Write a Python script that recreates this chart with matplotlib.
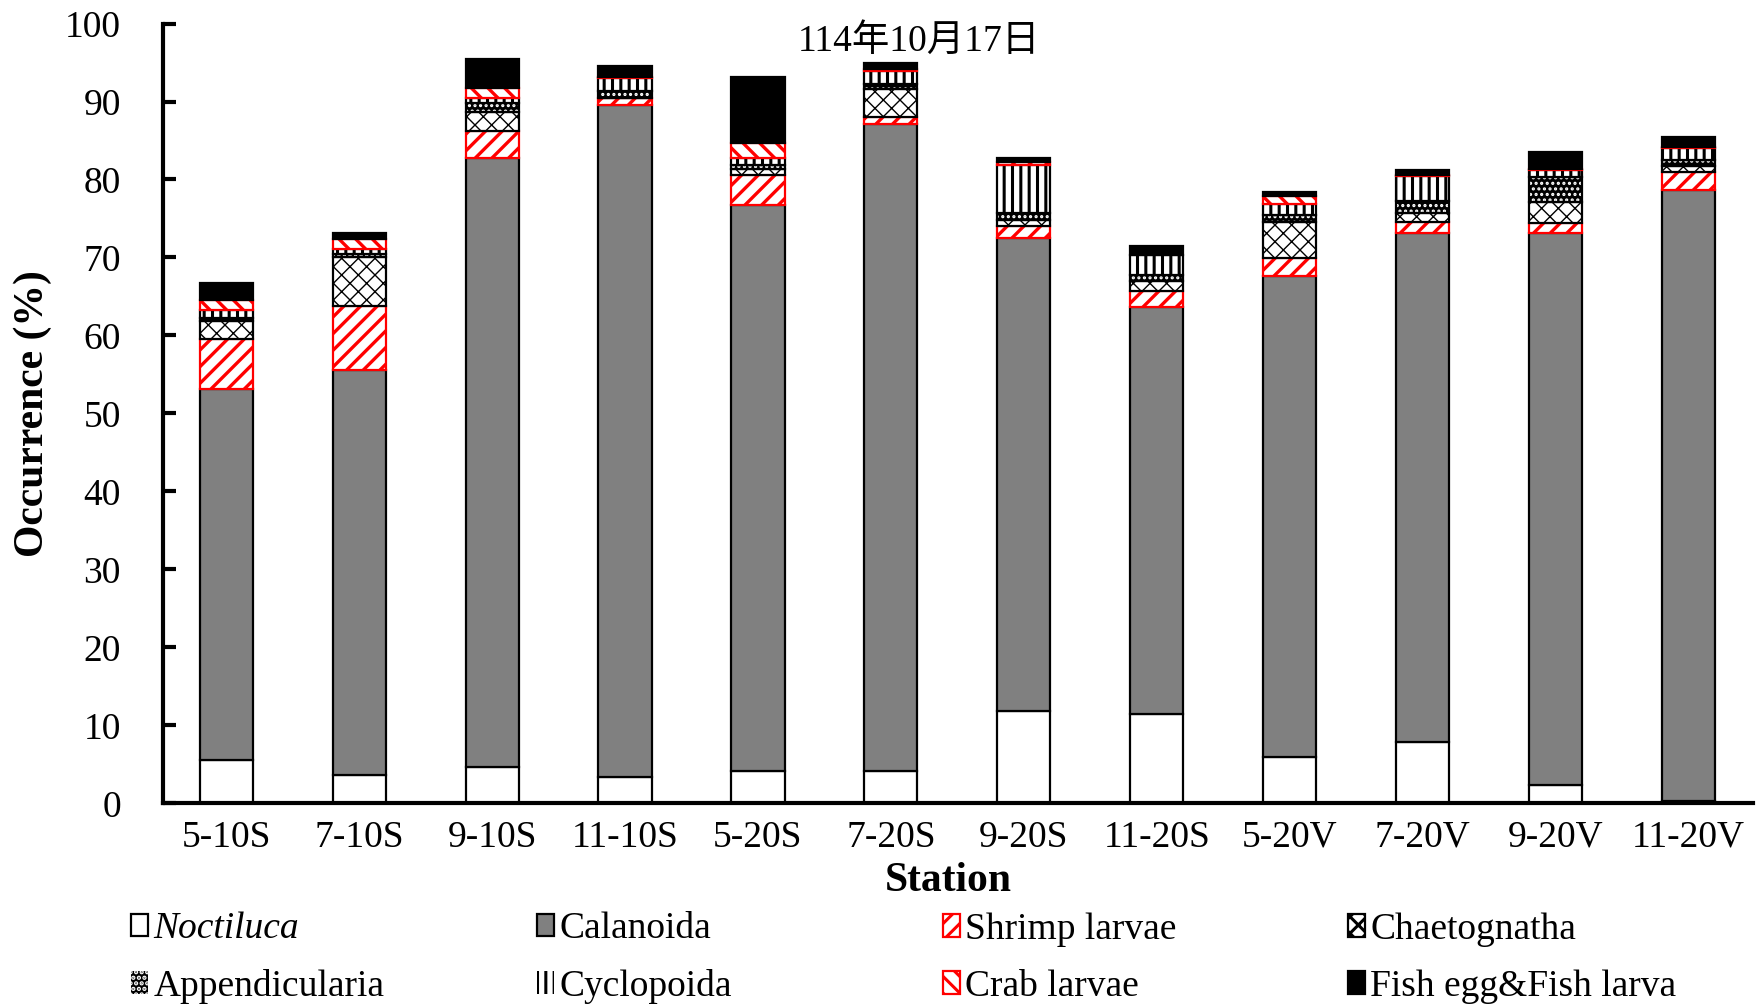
import numpy as np
import matplotlib
matplotlib.use('Agg')
import matplotlib.pyplot as plt
import matplotlib.patches as mpatches

stations = ['5-10S', '7-10S', '9-10S', '11-10S', '5-20S', '7-20S',
            '9-20S', '11-20S', '5-20V', '7-20V', '9-20V', '11-20V']
noctiluca      = [5.6, 3.6, 4.7, 3.4, 4.2, 4.2, 11.8, 11.5, 5.9, 7.9, 2.4, 0.3]
calanoida      = [47.5, 52.0, 78.0, 86.1, 72.5, 82.9, 60.7, 52.1, 61.7, 65.3, 70.7, 78.3]
shrimp_larvae  = [6.4, 8.2, 3.5, 0.9, 3.9, 0.9, 1.5, 2.1, 2.3, 1.3, 1.3, 2.3]
chaetognatha   = [2.3, 6.2, 2.5, 0.1, 0.8, 3.6, 0.8, 1.3, 4.6, 1.2, 2.7, 0.8]
appendicularia = [0.5, 0.5, 1.1, 0.8, 0.5, 0.7, 0.9, 0.7, 0.9, 1.6, 3.2, 0.8]
cyclopoida     = [1.0, 0.6, 0.7, 1.7, 0.9, 1.6, 6.2, 2.6, 1.5, 3.1, 0.9, 1.6]
crab_larvae    = [1.3, 1.3, 1.2, 0.1, 1.9, 0.3, 0.3, 0.0, 1.0, 0.2, 0.2, 0.1]
fish           = [2.1, 0.8, 3.8, 1.4, 8.5, 0.7, 0.6, 1.2, 0.5, 0.6, 2.1, 1.3]
series_names = ['Noctiluca', 'Calanoida', 'Shrimp larvae', 'Chaetognatha',
                'Appendicularia', 'Cyclopoida', 'Crab larvae', 'Fish egg&Fish larva']
title_text = '114年10月17日'

plt.rcParams['font.family'] = ['Liberation Serif', 'Noto Sans CJK JP', 'DejaVu Sans']
plt.rcParams['hatch.linewidth'] = 2.2

styles = {
    'Noctiluca':          dict(facecolor='white', edgecolor='black', hatch=None, hlw=2.2),
    'Calanoida':          dict(facecolor='#808080', edgecolor='black', hatch=None, hlw=2.2),
    'Shrimp larvae':      dict(facecolor='white', edgecolor='#ff0000', hatch='//', hlw=2.4),
    'Chaetognatha':       dict(facecolor='white', edgecolor='black', hatch='xx', hlw=1.0),
    'Appendicularia':     dict(facecolor='black', edgecolor='white', hatch='...', hlw=1.5),
    'Cyclopoida':         dict(facecolor='white', edgecolor='black', hatch='||', hlw=2.2),
    'Crab larvae':        dict(facecolor='white', edgecolor='#ff0000', hatch='\\\\', hlw=2.4),
    'Fish egg&Fish larva': dict(facecolor='black', edgecolor='black', hatch=None, hlw=2.2),
}
data = [noctiluca, calanoida, shrimp_larvae, chaetognatha,
        appendicularia, cyclopoida, crab_larvae, fish]


def set_hlw(patches, lw):
    for p in patches:
        if hasattr(p, 'set_hatch_linewidth'):
            p.set_hatch_linewidth(lw)


fig = plt.figure(figsize=(17.57, 10.05), dpi=100)
ax = fig.add_axes([0.0925, 0.2006, 0.9055, 0.776])
x = np.arange(len(stations))
width = 0.40
bottom = np.zeros(len(stations))
for name, vals in zip(series_names, data):
    vals = np.array(vals, dtype=float)
    m = vals > 0
    st = styles[name]
    with plt.rc_context({'hatch.linewidth': st['hlw']}):
        if name == 'Appendicularia':
            b = ax.bar(x[m], vals[m], width, bottom=bottom[m], facecolor='black',
                       edgecolor='white', hatch=st['hatch'], linewidth=0)
            set_hlw(b, st['hlw'])
            ax.bar(x[m], vals[m], width, bottom=bottom[m], fill=False,
                   edgecolor='black', linewidth=1.6)
        else:
            b = ax.bar(x[m], vals[m], width, bottom=bottom[m], facecolor=st['facecolor'],
                       edgecolor=st['edgecolor'], hatch=st['hatch'], linewidth=1.6)
            set_hlw(b, st['hlw'])
    bottom += vals

ax.set_xlim(-0.48, 11.49)
ax.set_ylim(0, 100)
ax.set_yticks(np.arange(0, 101, 10))
ax.set_xticks(x)
ax.set_xticklabels(stations)
for s in ['top', 'right']:
    ax.spines[s].set_visible(False)
for s in ['left', 'bottom']:
    ax.spines[s].set_linewidth(3)
ax.tick_params(axis='y', direction='in', length=9, width=3, labelsize=27, pad=30)
ax.tick_params(axis='x', length=0, labelsize=27, pad=12)

ax.set_ylabel('Occurrence (%)', fontsize=30, fontweight='bold', va='center')
ax.yaxis.set_label_coords(-0.0814, 0.5)
ax.set_xlabel('Station', fontsize=30, fontweight='bold')
ax.xaxis.label.set_va('center')
ax.xaxis.set_label_coords(0.494, -0.1)

fig.text(0.523, 0.959, title_text, fontsize=27, ha='center', va='center')

handles = {}
for name in series_names:
    st = styles[name]
    lw = 0 if name in ('Cyclopoida', 'Appendicularia') else 1.6
    with plt.rc_context({'hatch.linewidth': min(st['hlw'], 1.8)}):
        p = mpatches.Patch(facecolor=st['facecolor'],
                           edgecolor=st['edgecolor'],
                           hatch=st['hatch'], linewidth=lw, label=name)
    set_hlw([p], min(st['hlw'], 1.8))
    handles[name] = p

cols = [['Noctiluca', 'Appendicularia'], ['Calanoida', 'Cyclopoida'],
        ['Shrimp larvae', 'Crab larvae'], ['Chaetognatha', 'Fish egg&Fish larva']]
xpos = [0.0746, 0.3056, 0.5367, 0.7672]
for c, xp in zip(cols, xpos):
    leg = fig.legend([handles[n] for n in c], c, loc='center left',
                     bbox_to_anchor=(xp, 0.0468), frameon=False, fontsize=27,
                     handlelength=0.45, handleheight=0.55, handletextpad=0.15,
                     labelspacing=0.6, borderpad=0, borderaxespad=0)
    for t in leg.get_texts():
        if t.get_text() == 'Noctiluca':
            t.set_style('italic')

fig.savefig('out.png', dpi=100)
